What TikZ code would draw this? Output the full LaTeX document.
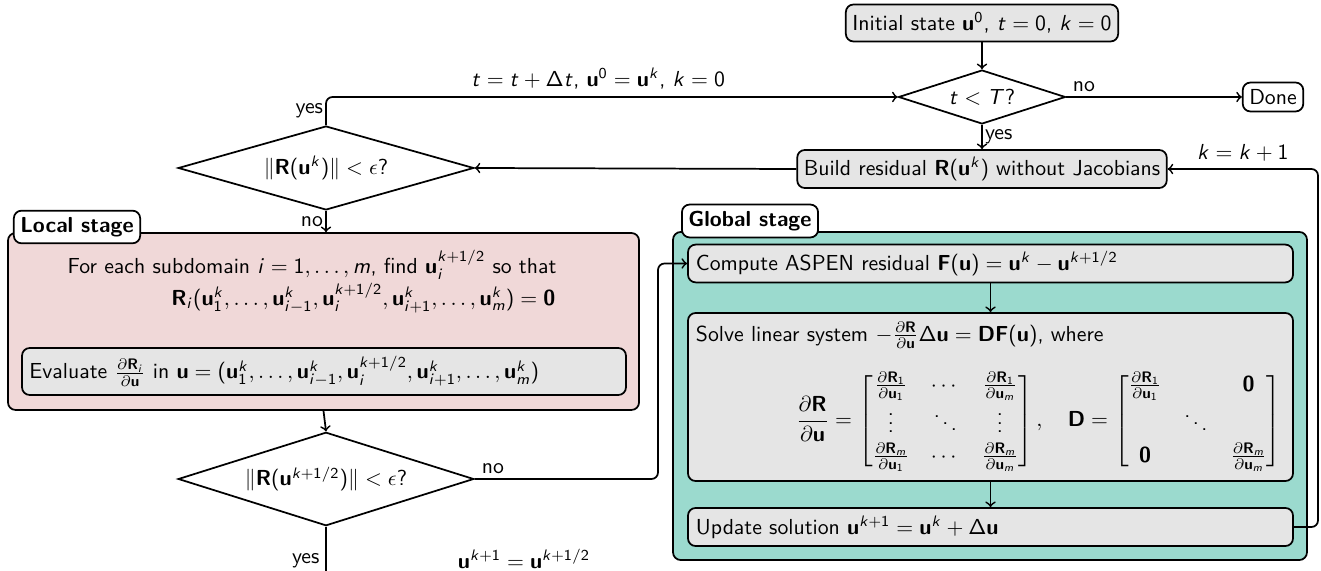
\documentclass[tikz,border=0pt]{standalone}
\usepackage{amsmath}
\usetikzlibrary{shapes.geometric,calc}
\DeclareSymbolFont{sfletters}{OT1}{cmss}{m}{sl}
\SetSymbolFont{operators}{normal}{OT1}{cmss}{m}{n}
\SetMathAlphabet{\mathbf}{normal}{OT1}{cmss}{bx}{n}
\DeclareMathSymbol{t}{\mathalpha}{sfletters}{`t}
\DeclareMathSymbol{T}{\mathalpha}{sfletters}{`T}
\DeclareMathSymbol{k}{\mathalpha}{sfletters}{`k}
\DeclareMathSymbol{i}{\mathalpha}{sfletters}{`i}
\DeclareMathSymbol{m}{\mathalpha}{sfletters}{`m}
\definecolor{pinkfill}{RGB}{240,216,216}
\definecolor{tealfill}{RGB}{155,218,206}
\definecolor{grayfill}{RGB}{229,229,229}
\tikzset{
  conn/.style={line width=0.8pt, rounded corners=3pt},
  arr/.style={conn, ->},
  graybox/.style={draw, line width=0.8pt, rounded corners=3.5pt, fill=grayfill, inner sep=3pt},
  wbox/.style={graybox, fill=white},
  leftbox/.style={graybox, minimum width=278.3pt, text width=271pt, align=left},
  decision/.style={draw, line width=0.8pt, diamond, aspect=3.5, inner sep=0pt, fill=white},
  stagebox/.style={draw, line width=0.8pt, rounded corners=3.5pt},
  tagbox/.style={draw, line width=0.8pt, rounded corners=3.5pt, fill=white, font=\sffamily\bfseries, inner sep=3pt},
  lbl/.style={font=\sffamily, inner sep=1pt},
}
\begin{document}
\begin{tikzpicture}[x=0.46pt, y=-0.46pt, font=\sffamily]
\clip (0,0) rectangle (1321,571);
% top part
\node[graybox, minimum height=17pt] (init) at (982,23) {Initial state $\mathbf{u}^0$, $t=0$, $k=0$};
\node[decision, minimum width=76.8pt, minimum height=24.8pt, aspect=3] (dA) at (982,97) {$t<T$?};
\node[wbox, minimum height=13.3pt] (done) at (1273,97) {Done};
\node[graybox, minimum height=17.5pt] (build) at (982,169) {Build residual $\mathbf{R}(\mathbf{u}^k)$ without Jacobians};
\node[decision, minimum width=136pt, minimum height=38.6pt] (dB) at (326,168) {$\|\mathbf{R}(\mathbf{u}^k)\|<\epsilon$?};
% local stage
\node[stagebox, fill=pinkfill, minimum width=290.3pt, minimum height=81.4pt] (local) at (323.5,321.5) {};
\node[tagbox] (ltag) at (77,227) {Local stage};
\node[lbl] (lt1) at (312,265) {For each subdomain $i=1,\ldots,m$, find $\mathbf{u}_i^{k+1/2}$ so that};
\node[lbl, anchor=east] (lt2) at (558,298) {$\mathbf{R}_i(\mathbf{u}_1^k,\ldots,\mathbf{u}_{i-1}^k,\mathbf{u}_i^{k+1/2},\mathbf{u}_{i+1}^k,\ldots,\mathbf{u}_m^k)=\mathbf{0}$};
\node[graybox, minimum width=277.8pt, minimum height=21.6pt, text width=271pt, align=left] (eval) at (324,371.5) {Evaluate $\frac{\partial\mathbf{R}_i}{\partial\mathbf{u}}$ in $\mathbf{u}=(\mathbf{u}_1^k,\ldots,\mathbf{u}_{i-1}^k,\mathbf{u}_i^{k+1/2},\mathbf{u}_{i+1}^k,\ldots,\mathbf{u}_m^k)$};
\node[decision, minimum width=136pt, minimum height=43pt] (dC) at (326,479) {$\|\mathbf{R}(\mathbf{u}^{k+1/2})\|<\epsilon$?};
% global stage
\node[stagebox, fill=tealfill, minimum width=291.6pt, minimum height=150.9pt] (global) at (990,396) {};
\node[tagbox] (gtag) at (750,221) {Global stage};
\node[leftbox, minimum height=17pt] (compute) at (990.5,263.5) {Compute ASPEN residual $\mathbf{F}(\mathbf{u})=\mathbf{u}^k-\mathbf{u}^{k+1/2}$};
\node[leftbox, minimum height=77.3pt, inner ysep=2pt] (solve) at (990.5,397) {\renewcommand{\arraystretch}{1.12}Solve linear system $-\frac{\partial\mathbf{R}}{\partial\mathbf{u}}\Delta\mathbf{u}=\mathbf{DF}(\mathbf{u})$, where\\[9pt]
\mbox{\hspace*{46pt}$\displaystyle\frac{\partial\mathbf{R}}{\partial\mathbf{u}}=\begin{bmatrix}\frac{\partial\mathbf{R}_1}{\partial\mathbf{u}_1} & \cdots & \frac{\partial\mathbf{R}_1}{\partial\mathbf{u}_m}\\ \vdots & \ddots & \vdots\\ \frac{\partial\mathbf{R}_m}{\partial\mathbf{u}_1} & \cdots & \frac{\partial\mathbf{R}_m}{\partial\mathbf{u}_m}\end{bmatrix},\quad \mathbf{D}=\begin{bmatrix}\frac{\partial\mathbf{R}_1}{\partial\mathbf{u}_1} & & \mathbf{0}\\ & \ddots & \\ \mathbf{0} & & \frac{\partial\mathbf{R}_m}{\partial\mathbf{u}_m}\end{bmatrix}$}};
\node[leftbox, minimum height=17.5pt] (update) at (990.5,527) {Update solution $\mathbf{u}^{k+1}=\mathbf{u}^k+\Delta\mathbf{u}$};
% helper coordinates
\coordinate (jn) at (658,0);
\coordinate (rj) at (1318,0);
\coordinate (bot) at (326,600);
% connectors
\draw[arr] (init) -- (dA);
\draw[arr] (dA.east) -- node[lbl, pos=0.1, above=1pt] {no} (done.west);
\draw[arr] (dA.south) -- node[lbl, midway, right] {yes} (build.north);
\draw[arr] (build.west) -- (dB.east);
\draw[arr] (dB.north) |- node[lbl, pos=0.25, left] {yes} node[lbl, pos=0.738, above=2pt] {$t=t+\Delta t$, $\mathbf{u}^0=\mathbf{u}^k$, $k=0$} (dA.west);
\draw[arr] (dB.south) -- node[lbl, midway, left] {no} (dB.south |- local.north);
\draw[arr] (local.south) -- (dC.north);
\draw[arr] (dC.east) -- node[lbl, pos=0.1, above=1pt] {no} (dC.east -| jn) |- (compute.west);
\draw[arr] (compute) -- (solve);
\draw[arr] (solve) -- (update);
\draw[arr] (update.east) -| (rj |- build.east) -- node[lbl, midway, above=2pt] {$k=k+1$} (build.east);
\draw[conn] (dC.south) -- (bot);
\node[lbl, anchor=east] (yC) at (322,561) {yes};
\node[lbl] (uk) at (524,559) {$\mathbf{u}^{k+1}=\mathbf{u}^{k+1/2}$};
\end{tikzpicture}
\end{document}
